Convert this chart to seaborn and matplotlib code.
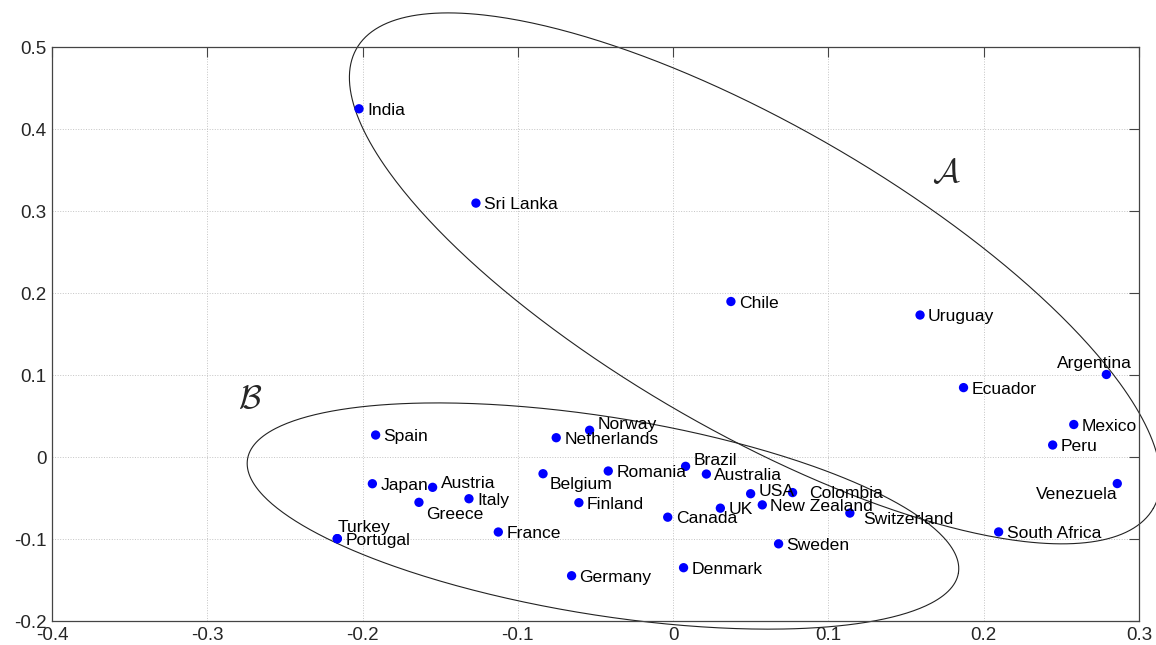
import numpy as np
import pandas as pd
import seaborn as sns
import matplotlib.pyplot as plt

# country coordinates
countries = ["India", "Sri Lanka", "Chile", "Uruguay", "Argentina", "Ecuador",
             "Mexico", "Peru", "Venezuela", "South Africa", "Switzerland",
             "Colombia", "Sweden", "USA", "New Zealand", "UK", "Canada",
             "Australia", "Brazil", "Romania", "Belgium", "Finland",
             "Netherlands", "Norway", "Germany", "Denmark", "France", "Spain",
             "Japan", "Austria", "Greece", "Italy", "Portugal", "Turkey"]
x_vals = [-0.2023, -0.127, 0.0372, 0.159, 0.279, 0.187,
          0.258, 0.2444, 0.286, 0.2096, 0.1138,
          0.0769, 0.0679, 0.0499, 0.0574, 0.0304, -0.0035,
          0.0214, 0.008, -0.0418, -0.0838, -0.0607,
          -0.0753, -0.0538, -0.0654, 0.0067, -0.1126, -0.1916,
          -0.1937, -0.1549, -0.1637, -0.1315, -0.2163, -0.2163]
y_vals = [0.425, 0.310, 0.190, 0.1735, 0.101, 0.085,
          0.040, 0.015, -0.032, -0.091, -0.068,
          -0.043, -0.1055, -0.0444, -0.058, -0.062, -0.073,
          -0.0204, -0.011, -0.0167, -0.020, -0.0553,
          0.0239, 0.033, -0.1444, -0.1346, -0.0911, 0.0272,
          -0.0322, -0.0366, -0.0549, -0.0505, -0.0992, -0.0992]

x_ticks = [-0.4, -0.3, -0.2, -0.1, 0, 0.1, 0.2, 0.3]
y_ticks = [-0.2, -0.1, 0, 0.1, 0.2, 0.3, 0.4, 0.5]

df = pd.DataFrame({"country": countries, "x": x_vals, "y": y_vals})

# label placement tweaks (pixels: dx to anchor, dy of text centre, + is down)
label_pos = {
    "Argentina": (25, -12, "right"),
    "Venezuela": (0, 9, "right"),
    "Switzerland": (13, 5, "left"),
    "Colombia": (17, -1, "left"),
    "USA": (8, -4, "left"),
    "Brazil": (8, -7, "left"),
    "Norway": (8, -7, "left"),
    "Belgium": (7, 9, "left"),
    "Austria": (8, -5, "left"),
    "Greece": (7, 11, "left"),
    "Turkey": (0, -13, "left"),
}

sns.set_theme(style="white")
plt.rcParams["font.family"] = ["Liberation Sans", "DejaVu Sans"]
plt.rcParams["mathtext.fontset"] = "cm"

fig = plt.figure(figsize=(11.56, 6.45), dpi=100)
ax = fig.add_axes([0.045, 0.0367, 0.9403, 0.890])

sns.scatterplot(data=df, x="x", y="y", ax=ax, color="#0000ff", s=45,
                edgecolor="none", zorder=3, legend=False)

px = 100 / 72
for c, xx, yy in zip(countries, x_vals, y_vals):
    dx, dy, ha = label_pos.get(c, (8, 0, "left"))
    ax.annotate(c, (xx, yy), xytext=(dx / px, -(dy + 6) / px),
                textcoords="offset points", ha=ha, va="baseline",
                fontsize=12.6, color="black", zorder=4)

# the two group ellipses (centre, major and minor half-axis vectors in data units)
t = np.linspace(0, 2 * np.pi, 500)
ellipses = [
    ((0.0527, 0.2182), (0.2565, -0.2805), (-0.0493, -0.1616)),
    ((-0.0452, -0.0716), (0.2289, -0.0694), (-0.0101, -0.1192)),
]
for (cx, cy), (ux, uy), (vx, vy) in ellipses:
    ax.plot(cx + ux * np.cos(t) + vx * np.sin(t),
            cy + uy * np.cos(t) + vy * np.sin(t),
            color="#222222", lw=0.8, clip_on=False, zorder=2)

ax.text(0.176, 0.346, r"$\mathcal{A}$", fontsize=24, ha="center", va="center")
ax.text(-0.2725, 0.070, r"$\mathcal{B}$", fontsize=24, ha="center", va="center")

ax.set_xlim(-0.4, 0.3)
ax.set_ylim(-0.2, 0.5)
ax.set_xticks(x_ticks)
ax.set_yticks(y_ticks)
ax.set_xticklabels([f"{v:g}" for v in x_ticks])
ax.set_yticklabels([f"{v:g}" for v in y_ticks])
ax.set_xlabel("")
ax.set_ylabel("")
ax.tick_params(direction="in", length=7, width=0.8, color="#444444",
               top=True, right=True, labelsize=13.5, pad=4)
ax.grid(True, linestyle=":", color="#c4c4c4", linewidth=0.7)
for sp in ax.spines.values():
    sp.set_color("#444444")
    sp.set_linewidth(0.9)

plt.savefig("out.png", dpi=100)
